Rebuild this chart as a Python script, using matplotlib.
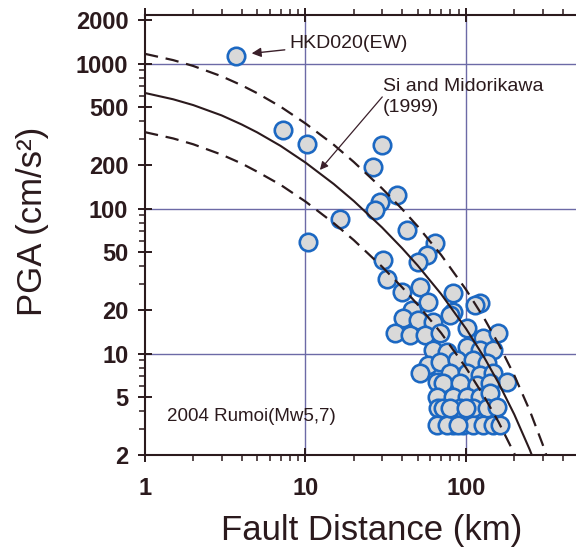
import matplotlib
matplotlib.use("Agg")
import matplotlib.pyplot as plt
from matplotlib.ticker import FixedLocator, FixedFormatter, LogLocator, NullFormatter

plt.rcParams['font.family'] = ['Liberation Sans', 'DejaVu Sans']

# ---- observed records (fault distance km, PGA cm/s^2) ----
dist_km = [3.69, 7.24, 10.2, 10.4, 16.4, 30.1, 26.5, 37.0, 29.1, 27.1,
           42.7, 64.1, 56.9, 50.5, 30.5, 32.3, 39.7, 51.7, 58.2, 83.3,
           122, 114, 45.9, 40.7, 50.5, 62.5, 83.3, 79.4, 36.1, 44.8,
           55.5, 68.9, 101, 128, 159, 62.5, 75.8, 101, 122, 148,
           58.2, 51.7, 68.9, 87.5, 111, 135, 79.4, 101, 122, 148,
           179, 65.7, 72.2, 91.8, 117, 141, 65.7, 83.3, 101, 122,
           141, 67.2, 72.2, 91.8, 111, 135, 155, 65.7, 83.3, 96.2,
           111, 128, 148, 163, 75.8, 89.1, 79.4, 100]
pga = [1130, 348, 279, 59, 85, 275, 194, 124, 112, 98,
       71, 58, 48, 43, 44.5, 32.5, 26.8, 29.0, 22.8, 26.1,
       22.2, 21.6, 20.0, 17.5, 17.1, 16.6, 19.5, 18.5, 13.8, 13.4,
       13.4, 13.8, 15.0, 12.8, 13.8, 10.6, 10.3, 11.2, 10.6, 10.6,
       8.35, 7.31, 8.79, 9.04, 9.04, 8.57, 7.31, 7.31, 7.13, 7.31,
       6.41, 6.41, 6.25, 6.25, 6.08, 6.25, 5.05, 5.05, 5.05, 5.05,
       5.33, 4.20, 4.20, 4.20, 4.20, 4.20, 4.31, 3.22, 3.22, 3.22,
       3.22, 3.22, 3.22, 3.22, 3.22, 3.22, 4.20, 4.20]

# ---- Si and Midorikawa (1999) curve ----
curve_dist = [1, 1.5, 2, 3, 4, 5, 7, 10, 15, 20, 30, 40, 50, 70, 100,
              130, 160, 200, 250, 300, 350]
curve_median = [628, 568, 518, 440, 381, 336, 271, 208, 148, 113, 74.2,
                53.4, 40.6, 25.8, 14.9, 9.41, 6.25, 3.81, 2.17, 1.28, 0.78]
curve_upper = [1169, 1058, 964, 819, 710, 626, 505, 387, 276, 210, 138,
               99.4, 75.6, 48.0, 27.7, 17.5, 11.6, 7.09, 4.04, 2.38, 1.45]
curve_lower = [337, 305, 278, 236, 205, 180, 146, 112, 79.5, 60.7, 39.8,
               28.7, 21.8, 13.9, 8.0, 5.05, 3.36, 2.05, 1.17, 0.69, 0.42]

x_ticks = [1, 10, 100]
x_tick_labels = ['1', '10', '100']
y_ticks = [2, 5, 10, 20, 50, 100, 200, 500, 1000, 2000]
y_tick_labels = ['2', '5', '10', '20', '50', '100', '200', '500', '1000', '2000']
x_grid = [10, 100]
y_grid = [10, 100, 1000]

dark = '#2b1a1d'
grid_c = '#6c6aa6'

fig = plt.figure(figsize=(5.76, 5.51), dpi=100)
ax = fig.add_axes([0.2517, 0.1742, 0.752, 0.7985])
ax.set_xscale('log')
ax.set_yscale('log')
ax.set_xlim(1, 500)
ax.set_ylim(2, 2165)

for gx in x_grid:
    ax.axvline(gx, color=grid_c, lw=1.0, zorder=0)
for gy in y_grid:
    ax.axhline(gy, color=grid_c, lw=1.0, zorder=0)

ax.scatter(dist_km, pga, s=158, facecolor='#d9d9d9', edgecolor='#1c68c2',
           linewidths=1.9, zorder=2)

ax.plot(curve_dist, curve_median, color=dark, lw=1.5, zorder=3)
ax.plot(curve_dist, curve_upper, color=dark, lw=1.6, dashes=(6, 3.5), zorder=3)
ax.plot(curve_dist, curve_lower, color=dark, lw=1.6, dashes=(6, 3.5), zorder=3)

for side in ['left', 'bottom', 'top']:
    ax.spines[side].set_color(dark)
    ax.spines[side].set_linewidth(1.5)
ax.spines['right'].set_visible(False)

ax.xaxis.set_major_locator(FixedLocator(x_ticks))
ax.xaxis.set_major_formatter(FixedFormatter(x_tick_labels))
ax.xaxis.set_minor_locator(LogLocator(base=10, subs=range(2, 10), numticks=20))
ax.xaxis.set_minor_formatter(NullFormatter())
ax.yaxis.set_major_locator(FixedLocator(y_ticks))
ax.yaxis.set_major_formatter(FixedFormatter(y_tick_labels))
ax.yaxis.set_minor_locator(LogLocator(base=10, subs=range(2, 10), numticks=20))
ax.yaxis.set_minor_formatter(NullFormatter())

ax.tick_params(which='major', direction='inout', length=10, width=1.4,
               color=dark, labelcolor=dark, labelsize=17, top=True)
ax.tick_params(which='minor', direction='out', length=4, width=1.1,
               color=dark, top=True)
ax.tick_params(axis='y', which='major', pad=7)
ax.tick_params(axis='x', which='major', pad=11)
for lab in ax.get_xticklabels() + ax.get_yticklabels():
    lab.set_fontweight('bold')

ax.set_xlabel('Fault Distance (km)', fontsize=25, color=dark)
ax.set_ylabel('PGA (cm/s²)', fontsize=25, color=dark)
ax.xaxis.set_label_coords(0.524, -0.135)
ax.yaxis.set_label_coords(-0.222, 0.53)

ax.annotate('HKD020(EW)', xy=(4.62, 1178), xytext=(7.89, 1387),
            fontsize=14, color=dark, ha='left', va='center',
            arrowprops=dict(arrowstyle='-|>', color='#3a1f2a', lw=1.0,
                            mutation_scale=14, shrinkA=1, shrinkB=0))
ax.text(30.4, 800, 'Si and Midorikawa\n(1999)', fontsize=14, color=dark,
        ha='left', va='top', linespacing=1.3)
ax.annotate('', xy=(12.3, 185), xytext=(30.1, 590),
            arrowprops=dict(arrowstyle='-|>', color='#3a1f2a', lw=0.9,
                            mutation_scale=12, shrinkA=0, shrinkB=0))
ax.text(1.37, 3.7, '2004 Rumoi(Mw5,7)', fontsize=13.5, color=dark,
        ha='left', va='center')

fig.savefig('out.png', dpi=100)
